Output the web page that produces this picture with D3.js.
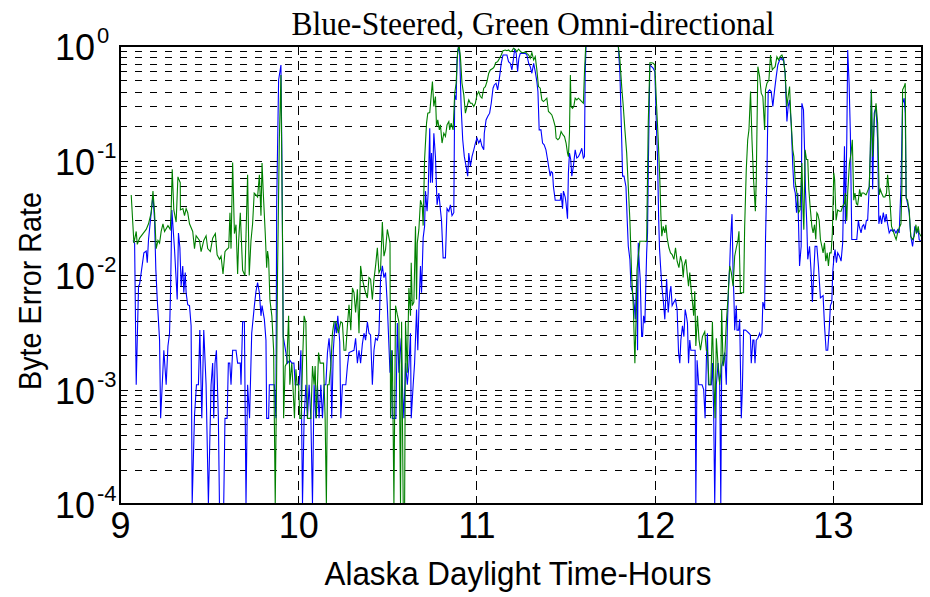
<!DOCTYPE html>
<html>
<head>
<meta charset="utf-8">
<script src="https://cdn.jsdelivr.net/npm/d3@7"></script>
<style>
  html, body { margin: 0; padding: 0; background: #fff; }
  svg { display: block; }
</style>
</head>
<body>
<svg id="chart" width="930" height="597"></svg>
<script>
// ---------------- DATA ----------------
const titleText = "Blue-Steered, Green Omni-directional";
const xLabelText = "Alaska Daylight Time-Hours";
const yLabelText = "Byte Error Rate";
const xTickValues = [9, 10, 11, 12, 13];
const yTickExponents = [0, -1, -2, -3, -4];

const greenHours = [
9.063,9.078,9.091,9.097,9.110,9.129,9.147,9.160,9.175,9.185,9.194,9.203,9.213,9.222,9.231,9.241,9.250,9.269,9.282,9.287,
9.293,9.302,9.315,9.325,9.338,9.339,9.353,9.362,9.371,9.380,9.390,9.408,9.418,9.427,9.446,9.455,9.470,9.483,9.492,9.507,
9.520,9.535,9.545,9.558,9.567,9.578,9.589,9.599,9.610,9.617,9.623,9.632,9.642,9.651,9.660,9.666,9.675,9.688,9.701,9.716,
9.725,9.735,9.744,9.753,9.763,9.772,9.782,9.791,9.797,9.804,9.815,9.823,9.828,9.834,9.841,9.852,9.862,9.871,9.879,9.884,
9.894,9.903,9.912,9.918,9.927,9.936,9.946,9.953,9.964,9.972,9.979,9.987,9.994,10.002,10.009,10.017,10.024,10.033,10.043,10.052,
10.061,10.071,10.080,10.089,10.095,10.102,10.114,10.123,10.132,10.142,10.151,10.158,10.164,10.173,10.183,10.192,10.201,10.211,10.225,10.239,
10.248,10.257,10.267,10.276,10.285,10.295,10.304,10.313,10.322,10.332,10.341,10.350,10.360,10.369,10.378,10.388,10.397,10.406,10.416,10.425,
10.434,10.444,10.453,10.462,10.472,10.481,10.490,10.500,10.515,10.518,10.528,10.537,10.546,10.556,10.565,10.574,10.580,10.589,10.597,10.602,
10.612,10.621,10.630,10.634,10.640,10.649,10.658,10.664,10.668,10.677,10.686,10.696,10.701,10.709,10.720,10.727,10.738,10.748,10.753,10.761,
10.770,10.776,10.783,10.792,10.798,10.807,10.817,10.826,10.835,10.845,10.850,10.858,10.869,10.878,10.886,10.895,10.903,10.910,10.919,10.929,
10.938,10.947,10.957,10.966,10.975,10.985,10.994,11.003,11.013,11.022,11.031,11.041,11.050,11.059,11.069,11.078,11.093,11.100,11.108,11.119,
11.130,11.139,11.149,11.162,11.171,11.180,11.190,11.199,11.208,11.218,11.227,11.236,11.246,11.255,11.264,11.274,11.283,11.293,11.302,11.311,
11.321,11.330,11.339,11.348,11.358,11.367,11.376,11.386,11.395,11.404,11.414,11.423,11.432,11.442,11.447,11.457,11.466,11.475,11.485,11.494,
11.503,11.511,11.516,11.522,11.527,11.531,11.539,11.546,11.554,11.563,11.572,11.582,11.591,11.600,11.606,11.613,11.796,11.805,11.815,11.824,
11.833,11.843,11.852,11.861,11.871,11.880,11.889,11.895,11.901,11.908,11.917,11.927,11.945,11.955,11.964,11.973,11.983,11.992,12.001,12.011,
12.020,12.029,12.035,12.040,12.048,12.057,12.063,12.070,12.080,12.089,12.098,12.108,12.117,12.126,12.136,12.145,12.154,12.160,12.165,12.175,
12.182,12.190,12.197,12.203,12.212,12.219,12.225,12.231,12.240,12.249,12.257,12.268,12.281,12.290,12.296,12.305,12.315,12.324,12.331,12.339,
12.346,12.356,12.365,12.371,12.376,12.384,12.393,12.402,12.412,12.421,12.430,12.440,12.449,12.458,12.468,12.473,12.481,12.492,12.499,12.505,
12.514,12.522,12.529,12.538,12.546,12.555,12.565,12.570,12.579,12.589,12.598,12.607,12.617,12.622,12.630,12.641,12.650,12.660,12.667,12.676,
12.686,12.695,12.704,12.714,12.723,12.732,12.742,12.749,12.757,12.764,12.775,12.781,12.789,12.798,12.807,12.816,12.826,12.833,12.837,12.844,
12.852,12.859,12.865,12.872,12.882,12.889,12.897,12.904,12.910,12.915,12.923,12.930,12.938,12.945,12.953,12.960,12.968,12.975,12.982,12.990,
12.997,13.005,13.010,13.018,13.027,13.037,13.046,13.055,13.065,13.070,13.078,13.083,13.093,13.102,13.109,13.117,13.124,13.132,13.139,13.145,
13.150,13.158,13.163,13.173,13.186,13.195,13.204,13.210,13.216,13.223,13.232,13.242,13.251,13.260,13.266,13.273,13.283,13.292,13.301,13.307,
13.313,13.320,13.329,13.339,13.348,13.355,13.363,13.372,13.382,13.387,13.391,13.400,13.406,13.411,13.419,13.428,13.437,13.447,13.456,13.466,
13.471,13.479,13.484,13.494
];
const greenBER = [
0.050,0.019,0.024,0.0185,0.021,0.023,0.025,0.028,0.035,0.054,0.035,0.017,0.020,0.019,0.024,0.028,0.024,0.027,0.025,0.037,
0.084,0.037,0.029,0.072,0.064,0.037,0.038,0.033,0.038,0.035,0.028,0.024,0.017,0.022,0.020,0.016,0.020,0.022,0.017,0.016,
0.021,0.023,0.015,0.0137,0.0146,0.0102,0.016,0.0167,0.0173,0.035,0.017,0.096,0.023,0.0275,0.0102,0.020,0.035,0.011,0.0099,0.075,
0.0099,0.020,0.028,0.052,0.050,0.048,0.075,0.033,0.095,0.052,0.023,0.0116,0.0162,0.0137,0.0061,0.0044,0.0022,0.0001,0.0014,0.0105,
0.152,0.559,0.020,0.00056,0.0016,0.0017,0.0044,0.0011,0.0017,0.00094,0.00056,0.0015,0.0011,0.0011,0.00056,0.00056,0.0017,0.0044,0.0038,0.00056,
0.00056,0.00056,0.0016,0.0011,0.0016,0.00056,0.0021,0.0017,0.0017,0.0017,0.00056,0.0001,0.0011,0.0011,0.0016,0.0031,0.0039,0.0039,0.0031,0.0039,
0.0038,0.0022,0.0022,0.0036,0.0055,0.0033,0.0077,0.0070,0.0047,0.0075,0.0031,0.0120,0.0092,0.0080,0.0070,0.0063,0.0095,0.0092,0.0061,0.0092,
0.0120,0.0173,0.0105,0.0112,0.029,0.0146,0.0167,0.025,0.019,0.00056,0.0022,0.0001,0.0054,0.0045,0.0039,0.0001,0.0039,0.0001,0.0001,0.0039,
0.0014,0.0077,0.0044,0.0128,0.0054,0.0058,0.0266,0.0061,0.019,0.025,0.045,0.040,0.027,0.102,0.212,0.259,0.262,0.400,0.489,0.296,
0.362,0.198,0.226,0.185,0.205,0.142,0.173,0.162,0.205,0.219,0.185,0.212,0.185,0.387,0.473,0.923,1.0,0.807,0.473,0.374,
0.259,0.296,0.338,0.316,0.316,0.296,0.316,0.374,0.400,0.362,0.350,0.428,0.442,0.489,0.578,0.618,0.639,0.660,0.715,0.730,
0.781,0.835,0.910,0.923,0.910,0.923,0.892,0.904,0.954,0.935,0.892,0.940,0.904,0.875,0.875,0.892,0.863,0.835,0.781,0.875,
0.755,0.807,0.618,0.442,0.428,0.338,0.327,0.338,0.350,0.268,0.259,0.250,0.226,0.198,0.157,0.152,0.157,0.179,0.168,0.162,
0.142,0.116,0.108,0.173,0.559,0.296,0.286,0.296,0.350,0.338,0.350,0.338,0.327,0.316,0.578,1.0,1.0,0.755,0.442,0.296,
0.185,0.116,0.059,0.030,0.0099,0.0054,0.0017,0.0038,0.0112,0.0146,0.0197,0.0197,0.0197,0.0197,0.212,0.715,0.715,0.706,0.683,0.296,
0.152,0.068,0.033,0.0218,0.0266,0.0233,0.0275,0.0211,0.0173,0.0156,0.0151,0.0137,0.0173,0.0132,0.0116,0.0146,0.0128,0.0095,0.0120,0.0137,
0.0105,0.0080,0.0105,0.0080,0.0058,0.0044,0.0072,0.0024,0.0044,0.0027,0.0022,0.0029,0.0032,0.0022,0.0022,0.0011,0.0011,0.0039,0.0014,0.00056,
0.0028,0.0016,0.0011,0.0014,0.0050,0.0016,0.0019,0.0038,0.0066,0.0120,0.0105,0.0080,0.0146,0.0173,0.0204,0.0241,0.0070,0.0070,0.0070,0.0266,
0.083,0.152,0.185,0.400,0.152,0.068,0.036,0.068,0.660,0.540,0.387,0.362,0.185,0.414,0.473,0.505,0.835,0.618,0.639,0.660,
0.807,0.755,0.807,0.835,0.755,0.578,0.296,0.362,0.442,0.242,0.124,0.108,0.064,0.052,0.035,0.037,0.095,0.035,0.0249,0.124,
0.102,0.102,0.056,0.040,0.0266,0.0233,0.0275,0.0204,0.035,0.034,0.030,0.0204,0.0178,0.0156,0.0191,0.0132,0.0156,0.0120,0.0156,0.0156,
0.0233,0.078,0.068,0.030,0.037,0.036,0.036,0.040,0.042,0.052,0.030,0.052,0.095,0.116,0.152,0.045,0.052,0.042,0.041,0.048,
0.056,0.048,0.052,0.052,0.050,0.054,0.059,0.124,0.414,0.108,0.226,0.316,0.212,0.050,0.056,0.052,0.048,0.048,0.052,0.075,
0.059,0.045,0.0266,0.0241,0.0218,0.0204,0.0233,0.0257,0.028,0.056,0.414,0.442,0.473,0.047,0.045,0.037,0.0218,0.0204,0.0218,0.0275,
0.0233,0.0266,0.0233,0.0218
];

const blueHours = [
9.073,9.082,9.091,9.104,9.110,9.119,9.134,9.147,9.153,9.160,9.175,9.185,9.194,9.201,9.209,9.222,9.228,9.241,9.246,9.259,
9.269,9.278,9.284,9.291,9.306,9.321,9.328,9.336,9.343,9.352,9.358,9.366,9.371,9.380,9.390,9.399,9.405,9.418,9.429,9.440,
9.448,9.459,9.470,9.483,9.496,9.511,9.520,9.526,9.533,9.541,9.552,9.558,9.582,9.589,9.601,9.608,9.616,9.623,9.632,9.651,
9.660,9.675,9.679,9.688,9.698,9.707,9.716,9.727,9.739,9.754,9.763,9.772,9.782,9.791,9.797,9.810,9.819,9.823,9.834,9.838,
9.866,9.875,9.879,9.890,9.903,9.908,9.916,9.931,9.940,9.953,9.964,9.976,9.983,9.994,10.005,10.015,10.024,10.033,10.043,10.052,
10.061,10.071,10.080,10.089,10.099,10.108,10.117,10.127,10.136,10.145,10.155,10.164,10.173,10.183,10.188,10.197,10.207,10.214,10.222,10.233,
10.239,10.248,10.267,10.276,10.285,10.313,10.322,10.332,10.341,10.350,10.360,10.369,10.378,10.388,10.397,10.406,10.416,10.425,10.434,10.444,
10.453,10.462,10.472,10.481,10.490,10.500,10.515,10.522,10.528,10.539,10.548,10.556,10.565,10.578,10.584,10.593,10.602,10.612,10.621,10.630,
10.634,10.645,10.653,10.664,10.671,10.677,10.686,10.692,10.701,10.709,10.714,10.723,10.729,10.738,10.742,10.748,10.753,10.761,10.770,10.779,
10.789,10.798,10.804,10.813,10.826,10.835,10.845,10.854,10.863,10.873,10.878,10.886,10.891,10.899,10.906,10.914,10.923,10.932,10.942,10.951,
10.957,10.966,10.975,10.985,10.994,11.003,11.013,11.022,11.031,11.041,11.044,11.054,11.063,11.074,11.083,11.093,11.100,11.110,11.119,11.130,
11.139,11.149,11.162,11.171,11.180,11.190,11.199,11.208,11.214,11.223,11.231,11.238,11.246,11.264,11.274,11.283,11.293,11.302,11.311,11.321,
11.330,11.339,11.345,11.352,11.362,11.371,11.380,11.390,11.399,11.408,11.414,11.419,11.427,11.432,11.442,11.470,11.475,11.483,11.488,11.498,
11.503,11.511,11.516,11.522,11.529,11.535,11.544,11.554,11.563,11.572,11.582,11.591,11.600,11.606,11.610,11.615,11.796,11.805,11.815,11.820,
11.828,11.839,11.846,11.852,11.861,11.867,11.876,11.886,11.891,11.899,11.904,11.908,11.914,11.919,11.927,11.932,11.938,11.945,11.955,11.960,
11.964,11.973,11.983,11.992,12.001,12.011,12.016,12.022,12.027,12.033,12.040,12.048,12.057,12.067,12.076,12.085,12.091,12.098,12.108,12.117,
12.126,12.134,12.141,12.147,12.156,12.164,12.171,12.178,12.184,12.190,12.197,12.203,12.227,12.231,12.238,12.247,12.266,12.275,12.283,12.290,
12.296,12.302,12.318,12.324,12.331,12.337,12.346,12.356,12.365,12.371,12.376,12.384,12.393,12.402,12.408,12.415,12.421,12.426,12.434,12.440,
12.445,12.449,12.458,12.462,12.471,12.477,12.486,12.492,12.499,12.510,12.520,12.529,12.537,12.542,12.551,12.557,12.563,12.570,12.579,12.589,
12.594,12.602,12.607,12.613,12.617,12.622,12.630,12.637,12.645,12.654,12.663,12.673,12.682,12.691,12.701,12.710,12.716,12.723,12.732,12.742,
12.749,12.757,12.766,12.775,12.781,12.789,12.796,12.803,12.813,12.822,12.826,12.835,12.841,12.846,12.854,12.859,12.869,12.878,12.885,12.893,
12.900,12.910,12.919,12.930,12.945,12.953,12.962,12.971,12.979,12.986,12.994,12.999,13.005,13.012,13.020,13.027,13.037,13.046,13.055,13.065,
13.070,13.078,13.083,13.091,13.098,13.106,13.134,13.143,13.148,13.158,13.165,13.173,13.180,13.188,13.195,13.204,13.210,13.216,13.223,13.232,
13.242,13.251,13.258,13.266,13.273,13.283,13.292,13.299,13.307,13.316,13.326,13.335,13.344,13.354,13.363,13.372,13.382,13.391,13.400,13.406,
13.411,13.419,13.428,13.437,13.447,13.452,13.460,13.469,13.479,13.484,13.494
];
const blueBER = [
0.020,0.019,0.0011,0.0080,0.0083,0.0105,0.0156,0.0162,0.0128,0.0204,0.035,0.050,0.030,0.0112,0.0061,0.0027,0.00056,0.0015,0.0022,0.0011,
0.0024,0.0031,0.0077,0.037,0.0167,0.0061,0.0233,0.0173,0.0080,0.0120,0.0070,0.0105,0.0070,0.0055,0.0054,0.0036,0.0001,0.00059,0.0011,0.0011,
0.0033,0.00056,0.0033,0.0011,0.0001,0.0011,0.0017,0.00056,0.0017,0.0022,0.00056,0.0001,0.0001,0.00056,0.00056,0.0017,0.0017,0.0011,0.0022,0.0022,
0.0017,0.0017,0.0011,0.0039,0.0039,0.0001,0.0011,0.00056,0.0031,0.0054,0.0072,0.0086,0.0070,0.0044,0.0054,0.0041,0.0027,0.00056,0.00056,0.0011,
0.0011,0.00056,0.040,0.505,0.683,0.124,0.0029,0.0021,0.0017,0.0018,0.0017,0.0017,0.0011,0.0011,0.0011,0.0022,0.0001,0.00056,0.0011,0.00056,
0.0011,0.00056,0.0001,0.0011,0.00056,0.0011,0.00056,0.0011,0.00056,0.0011,0.0011,0.0021,0.0028,0.0017,0.00056,0.0022,0.0039,0.0031,0.0044,0.0026,
0.00056,0.0011,0.0011,0.0016,0.0021,0.0022,0.0028,0.0017,0.0022,0.0017,0.0025,0.0031,0.0027,0.0039,0.0031,0.0030,0.0011,0.0022,0.0028,0.0027,
0.0031,0.0092,0.0120,0.0095,0.0105,0.0054,0.0014,0.0022,0.00056,0.00056,0.00056,0.0038,0.0014,0.0028,0.0011,0.00056,0.0017,0.0011,0.0016,0.0031,
0.00056,0.0011,0.0017,0.0050,0.0022,0.0050,0.0120,0.0070,0.0211,0.0266,0.054,0.036,0.052,0.191,0.064,0.116,0.064,0.173,0.108,0.041,
0.052,0.037,0.030,0.0141,0.0141,0.038,0.036,0.041,0.033,0.035,0.374,0.338,0.755,1.0,0.863,0.296,0.152,0.108,0.089,0.073,
0.116,0.089,0.108,0.124,0.142,0.157,0.142,0.152,0.133,0.124,0.173,0.226,0.242,0.259,0.316,0.428,0.457,0.473,0.414,0.540,
0.706,0.835,0.835,0.835,0.730,0.706,0.618,0.781,0.923,0.863,0.597,0.781,0.863,0.863,0.863,0.835,0.706,0.660,0.578,0.706,
0.597,0.489,0.400,0.185,0.185,0.142,0.137,0.124,0.102,0.083,0.073,0.080,0.078,0.059,0.045,0.045,0.052,0.038,0.054,0.048,
0.042,0.031,0.078,0.116,0.102,0.073,0.089,0.124,0.105,0.108,0.116,0.128,0.105,0.108,0.578,1.0,1.0,0.578,0.152,0.073,
0.073,0.059,0.030,0.0178,0.0137,0.0080,0.0070,0.0054,0.0041,0.0092,0.0022,0.0191,0.0120,0.0092,0.0029,0.0029,0.0044,0.0038,0.0156,0.0233,
0.078,0.683,0.660,0.639,0.597,0.173,0.108,0.033,0.0173,0.0120,0.0080,0.0061,0.0041,0.0092,0.0047,0.0070,0.0080,0.0054,0.0058,0.0061,
0.0050,0.0021,0.0017,0.0027,0.0036,0.0029,0.0050,0.0044,0.0038,0.0017,0.0027,0.0022,0.0022,0.0001,0.0018,0.0011,0.0011,0.0010,0.00056,0.0018,
0.0031,0.0011,0.0011,0.0017,0.00066,0.0001,0.0011,0.0017,0.0011,0.0001,0.0016,0.0018,0.0021,0.0011,0.0036,0.0080,0.0120,0.0204,0.034,0.0105,
0.0061,0.0033,0.0054,0.0033,0.0033,0.0041,0.00056,0.0010,0.0033,0.0033,0.0032,0.0031,0.0030,0.0017,0.0027,0.0027,0.0017,0.0027,0.0028,0.0031,
0.0029,0.0031,0.0058,0.0054,0.0050,0.0204,0.078,0.400,0.414,0.400,0.296,0.414,0.540,0.683,0.755,0.781,0.755,0.781,0.578,0.219,
0.296,0.338,0.212,0.089,0.059,0.052,0.035,0.052,0.0120,0.0178,0.316,0.277,0.124,0.056,0.0266,0.0137,0.0178,0.0105,0.0058,0.0105,
0.0178,0.0178,0.0120,0.0063,0.0066,0.0036,0.0022,0.0022,0.0033,0.0054,0.0058,0.0105,0.0137,0.0167,0.0128,0.0156,0.0146,0.0132,0.0191,0.133,
0.028,0.152,0.923,0.473,0.173,0.0204,0.0204,0.030,0.0266,0.0233,0.0266,0.0275,0.0249,0.030,0.030,0.059,0.116,0.414,0.056,0.259,
0.296,0.152,0.028,0.033,0.028,0.035,0.029,0.034,0.028,0.0233,0.0249,0.0241,0.0249,0.0233,0.0249,0.0233,0.059,0.316,0.350,0.259,
0.048,0.042,0.035,0.0218,0.0178,0.0204,0.0266,0.0233,0.0249,0.0204,0.0197
];

// ---------------- LAYOUT ----------------
const W = 930, H = 597;
const plot = { left: 120, right: 922, top: 46, bottom: 504 };

const svg = d3.select("#chart");
svg.append("rect").attr("width", W).attr("height", H).attr("fill", "#fff");

const x = d3.scaleLinear().domain([9, 13.5]).range([plot.left, plot.right]);
const y = d3.scaleLog().domain([1e-4, 1]).range([plot.bottom, plot.top]);

const sansFont = "'Liberation Sans', Arial, Helvetica, sans-serif";
const serifFont = "'Liberation Serif', 'Times New Roman', serif";

// ---------------- GRID ----------------
const gridG = svg.append("g");
const minorVals = [];
for (let e = -4; e < 0; e++) {
  for (let m = 1; m <= 9; m++) minorVals.push(m * Math.pow(10, e));
}
gridG.selectAll("line.hgrid")
  .data(minorVals.filter(v => v > 1e-4))
  .enter().append("line")
  .attr("x1", plot.left).attr("x2", plot.right)
  .attr("y1", d => Math.round(y(d)) + 0.5).attr("y2", d => Math.round(y(d)) + 0.5)
  .attr("stroke", "#000").attr("stroke-width", 1)
  .attr("stroke-dasharray", "7,8");

gridG.selectAll("line.vgrid")
  .data(xTickValues.filter(v => v > 9))
  .enter().append("line")
  .attr("x1", d => Math.round(x(d)) + 0.5).attr("x2", d => Math.round(x(d)) + 0.5)
  .attr("y1", plot.top).attr("y2", plot.bottom)
  .attr("stroke", "#000").attr("stroke-width", 1)
  .attr("stroke-dasharray", "9,6");

// ---------------- SERIES ----------------
svg.append("clipPath").attr("id", "plotclip")
  .append("rect").attr("x", plot.left).attr("y", plot.top - 1)
  .attr("width", plot.right - plot.left).attr("height", plot.bottom - plot.top + 2);

const line = d3.line().x(d => x(d[0])).y(d => y(Math.max(1e-4, Math.min(1, d[1]))));
const blueData = blueHours.map((h, i) => [h, blueBER[i]]);
const greenData = greenHours.map((h, i) => [h, greenBER[i]]);

const seriesG = svg.append("g").attr("clip-path", "url(#plotclip)");
seriesG.append("path").datum(blueData)
  .attr("d", line).attr("fill", "none").attr("stroke", "#0000ff").attr("stroke-width", 1.1);
seriesG.append("path").datum(greenData)
  .attr("d", line).attr("fill", "none").attr("stroke", "#008000").attr("stroke-width", 1.1);

// ---------------- AXES BOX & TICKS ----------------
const axG = svg.append("g");
xTickValues.forEach(v => {
  const px = Math.round(x(v)) + 0.5;
  axG.append("line").attr("x1", px).attr("x2", px).attr("y1", plot.bottom).attr("y2", plot.bottom - 8).attr("stroke", "#000");
  axG.append("line").attr("x1", px).attr("x2", px).attr("y1", plot.top).attr("y2", plot.top + 8).attr("stroke", "#000");
});
minorVals.concat([1]).forEach(v => {
  const py = Math.round(y(v)) + 0.5;
  const isMajor = Math.abs(Math.log10(v) - Math.round(Math.log10(v))) < 1e-9;
  const len = isMajor ? 8 : 4;
  axG.append("line").attr("x1", plot.left).attr("x2", plot.left + len).attr("y1", py).attr("y2", py).attr("stroke", "#000");
  axG.append("line").attr("x1", plot.right).attr("x2", plot.right - len).attr("y1", py).attr("y2", py).attr("stroke", "#000");
});
axG.append("rect")
  .attr("x", plot.left).attr("y", plot.top)
  .attr("width", plot.right - plot.left).attr("height", plot.bottom - plot.top)
  .attr("fill", "none").attr("stroke", "#000").attr("stroke-width", 2);

// ---------------- TICK LABELS ----------------
const xAxis = d3.axisBottom(x).tickValues(xTickValues).tickSize(0).tickFormat(d3.format("d"));
const xAxisG = svg.append("g").attr("transform", `translate(0,${plot.bottom})`).call(xAxis);
xAxisG.select(".domain").remove();
xAxisG.selectAll("text")
  .attr("font-family", sansFont).attr("font-size", 36).attr("fill", "#000")
  .attr("dy", null).attr("y", 34);

const yLab = svg.append("g");
yTickExponents.forEach(e => {
  const py = y(Math.pow(10, e));
  yLab.append("text")
    .attr("x", 95).attr("y", py + 14)
    .attr("text-anchor", "end")
    .attr("font-family", sansFont).attr("font-size", 36).attr("fill", "#000")
    .text("10");
  yLab.append("text")
    .attr("x", 97).attr("y", py - 3)
    .attr("text-anchor", "start")
    .attr("font-family", sansFont).attr("font-size", 22).attr("fill", "#000")
    .text(String(e));
});

// ---------------- TITLES ----------------
svg.append("text")
  .attr("x", 533).attr("y", 35)
  .attr("text-anchor", "middle")
  .attr("font-family", serifFont).attr("font-size", 33).attr("fill", "#000")
  .attr("textLength", 483).attr("lengthAdjust", "spacingAndGlyphs")
  .text(titleText);

svg.append("text")
  .attr("x", 518).attr("y", 585)
  .attr("text-anchor", "middle")
  .attr("font-family", sansFont).attr("font-size", 33).attr("fill", "#000")
  .attr("textLength", 387).attr("lengthAdjust", "spacingAndGlyphs")
  .text(xLabelText);

svg.append("text")
  .attr("transform", `translate(41,291) rotate(-90)`)
  .attr("text-anchor", "middle")
  .attr("font-family", sansFont).attr("font-size", 32).attr("fill", "#000")
  .attr("textLength", 198).attr("lengthAdjust", "spacingAndGlyphs")
  .text(yLabelText);
</script>
</body>
</html>
